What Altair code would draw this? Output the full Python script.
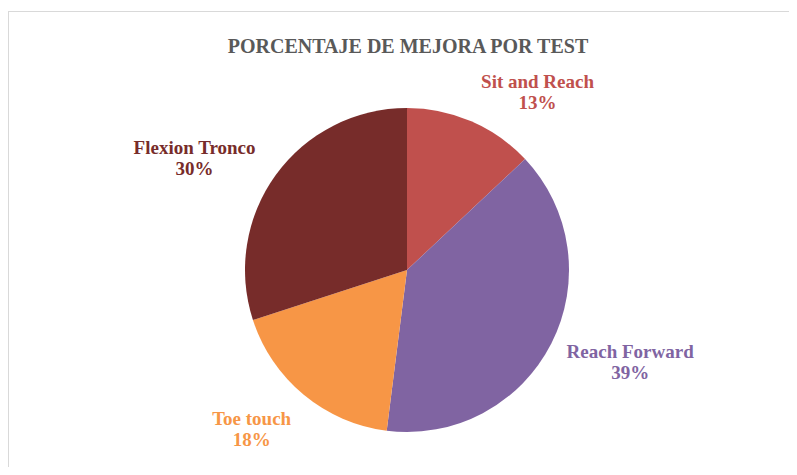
import altair as alt
import pandas as pd

categories = ["Sit and Reach", "Reach Forward", "Toe touch", "Flexion Tronco"]
values = [13, 39, 18, 30]
labels = ["13%", "39%", "18%", "30%"]
colors = ["#C0504D", "#8064A2", "#F79646", "#772C2A"]
title_text = "PORCENTAJE DE MEJORA POR TEST"

df = pd.DataFrame({
    "cat": categories,
    "val": values,
    "ord": list(range(len(categories))),
    "lab": [f"{c}\n{p}" for c, p in zip(categories, labels)],
})

W, H = 781, 459
CX, CY, R = 399, 262, 162
LR = 228
offsets = {
    "Sit and Reach": (40, 21),
    "Reach Forward": (20, -22),
    "Toe touch": (-10, -27),
    "Flexion Tronco": (-28, 12),
}

color_scale = alt.Scale(domain=categories, range=colors)
base = alt.Chart(df)

pie = base.mark_arc(outerRadius=R, stroke=None).encode(
    theta=alt.Theta("val:Q", stack=True),
    order=alt.Order("ord:Q"),
    color=alt.Color("cat:N", scale=color_scale, legend=None),
    x=alt.value(CX),
    y=alt.value(CY),
)

text_layers = []
for c in categories:
    dx, dy = offsets[c]
    t = base.mark_text(
        font="Liberation Serif", fontWeight="bold", fontSize=19,
        lineBreak="\n", lineHeight=21, align="center", baseline="middle",
        dx=dx, dy=dy,
    ).encode(
        theta=alt.Theta("val:Q", stack=True),
        order=alt.Order("ord:Q"),
        radius=alt.value(LR),
        text="lab:N",
        color=alt.Color("cat:N", scale=color_scale, legend=None),
        x=alt.value(CX),
        y=alt.value(CY),
        opacity=alt.condition(alt.datum.cat == c, alt.value(1), alt.value(0)),
    )
    text_layers.append(t)

tdf = pd.DataFrame({"t": [title_text]})
title = alt.Chart(tdf).mark_text(
    font="Liberation Serif", fontWeight="bold", fontSize=20, color="#595959",
    align="center", baseline="middle",
).encode(text="t:N", x=alt.value(400), y=alt.value(39))

border_top = alt.Chart(tdf).mark_rule(color="#D9D9D9", strokeWidth=1).encode(
    x=alt.value(0), x2=alt.value(W), y=alt.value(3.5)
)
border_left = alt.Chart(tdf).mark_rule(color="#D9D9D9", strokeWidth=1).encode(
    x=alt.value(0.5), y=alt.value(3), y2=alt.value(H)
)

chart = alt.layer(border_top, border_left, pie, *text_layers, title).properties(
    width=W, height=H, padding=0, autosize="none", background="white"
).configure_view(stroke=None)

chart.save("out.html", embed_options={"renderer": "svg", "actions": False})
